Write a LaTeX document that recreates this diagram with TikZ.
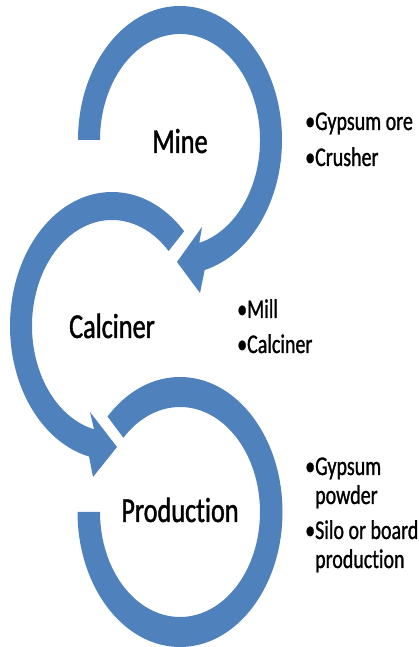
\documentclass[tikz,border=0pt]{standalone}
\usepackage{fontspec}
\newfontfamily\stagefont[FakeStretch=0.75, FakeBold=1.2, Ligatures=NoCommon]{Carlito}
\newfontfamily\listfont[FakeStretch=0.74, FakeBold=1, Ligatures=NoCommon]{Carlito}
\usetikzlibrary{positioning, calc}
\definecolor{arrowblue}{HTML}{4F81BD}

\begin{document}
\begin{tikzpicture}[x=1pt, y=1pt,
    bandfill/.style={fill=arrowblue, draw=none},
    stagenode/.style={font=\stagefont\fontsize{35}{40}\selectfont, inner sep=0pt, anchor=base},
    listnode/.style={font=\listfont\fontsize{27}{29}\selectfont, inner sep=0pt, anchor=base west}]

    \useasboundingbox (0,0) rectangle (418,647);

    % Centres
    \coordinate (mineC) at (180,507);
    \coordinate (calcC) at (112,321);
    \coordinate (prodC) at (180,135);

    % Curved Arrows
    \fill[bandfill] ($(mineC)+(180:102 and 134)$) arc[start angle=180, end angle=-76, x radius=102, y radius=134]
        -- (200,354) -- (177,385) -- (202,420)
        -- ($(mineC)+(-76:80 and 106)$) arc[start angle=-76, end angle=180, x radius=80, y radius=106] -- cycle;
    \fill[bandfill] ($(calcC)+(45:102 and 134)$) arc[start angle=45, end angle=257, x radius=102, y radius=134]
        -- (93,170) -- (117,200) -- (90,235)
        -- ($(calcC)+(257:80 and 106)$) arc[start angle=257, end angle=45, x radius=80, y radius=106] -- cycle;
    \fill[bandfill] ($(prodC)+(135:102.5 and 135)$) arc[start angle=135, end angle=-180, x radius=102.5, y radius=135]
        -- ($(prodC)+(180:80 and 105)$) arc[start angle=-180, end angle=135, x radius=80, y radius=105] -- cycle;

    % Nodes
    \node[stagenode] (mine) at (180,494) {Mine};
    \node[stagenode] (calciner) at (112,309) {Calciner};
    \node[stagenode] (production) at (180,125) {Production};

    \node[listnode] (mineList) at (305,517) {\begin{tabular}[t]{@{}l@{}l@{}}•&Gypsum ore\\[7pt] •&Crusher\end{tabular}};
    \node[listnode] (calcinerList) at (237,329) {\begin{tabular}[t]{@{}l@{}l@{}}•&Mill\\[6pt] •&Calciner\end{tabular}};
    \node[listnode] (productionList) at (305,172) {\begin{tabular}[t]{@{}l@{}l@{}}•&Gypsum\\ &powder\\[6pt] •&Silo or board\\ &production\end{tabular}};

\end{tikzpicture}
\end{document}
